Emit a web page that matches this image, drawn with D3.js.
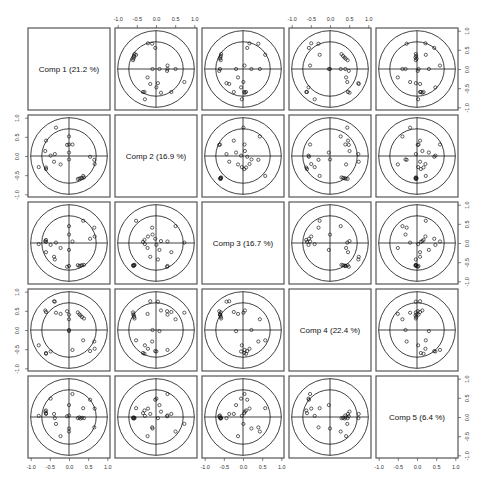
<!DOCTYPE html>
<html><head><meta charset="utf-8">
<script src="https://cdn.jsdelivr.net/npm/d3@7"></script>
<style>html,body{margin:0;padding:0;background:#fff;}svg{display:block;}</style>
</head><body>
<script>
// Component labels (diagonal)
const compLabels = ["Comp 1 (21.2 %)", "Comp 2 (16.9 %)", "Comp 3 (16.7 %)", "Comp 4 (22.4 %)", "Comp 5 (6.4 %)"];
// Loadings of each variable on the five components
const comp1 = [0.39, 0.34, 0.30, 0.27, 0.23, 0.67, 0.66, 0.55, 0.37, 0.00, 0.00, 0.09, -0.05, 0.00, -0.22, -0.37, -0.39, -0.48, -0.34, -0.60, -0.60, -0.62, -0.60, -0.79, 0.00];
const comp2 = [-0.56, -0.57, -0.58, -0.59, -0.60, -0.21, -0.10, -0.02, -0.52, -0.09, 0.09, 0.30, 0.29, 0.51, -0.22, 0.05, -0.15, 0.01, 0.74, -0.34, -0.30, 0.13, 0.40, -0.29, 0.30];
const comp3 = [-0.57, -0.58, -0.59, -0.60, -0.58, 0.17, 0.40, 0.11, 0.58, 0.22, -0.18, 0.04, -0.62, 0.44, -0.13, -0.43, -0.36, -0.05, 0.01, 0.03, 0.08, 0.05, -0.24, -0.03, -0.60];
const comp4 = [0.30, 0.34, 0.38, 0.41, 0.46, -0.49, -0.30, -0.55, -0.27, 0.00, -0.03, -0.52, 0.49, 0.28, 0.42, 0.74, 0.75, -0.56, 0.45, -0.60, -0.62, 0.51, 0.47, -0.40, 0.40];
const comp5 = [-0.03, -0.02, -0.04, -0.01, -0.03, 0.22, -0.27, 0.45, 0.23, -0.30, 0.31, 0.60, 0.02, -0.38, -0.50, -0.03, 0.08, 0.48, -0.18, 0.10, 0.17, 0.14, 0.08, 0.03, 0.04];
const comps = [comp1, comp2, comp3, comp4, comp5];
// Correlation circle radii and axis ticks
const circleRadii = [1, 0.71];
const tickValues = [-1, -0.5, 0, 0.5, 1];
const tickLabels = ["-1.0", "-0.5", "0.0", "0.5", "1.0"];

const W = 486, H = 486;
const padL = 28, padT = 28, size = 82, gap = 5, lim = 1.07;
const n = comps.length;

const svg = d3.select("body").append("svg").attr("width", W).attr("height", H)
  .style("font-family", "'Liberation Sans', Arial, sans-serif");
svg.append("rect").attr("width", W).attr("height", H).attr("fill", "#fff");

const x = d3.scaleLinear().domain([-lim, lim]).range([0, size]);
const y = d3.scaleLinear().domain([-lim, lim]).range([size, 0]);

for (let i = 0; i < n; i++) {
  for (let j = 0; j < n; j++) {
    const g = svg.append("g").attr("transform", `translate(${padL + j * (size + gap)},${padT + i * (size + gap)})`);
    if (i !== j) {
      circleRadii.forEach(r => {
        g.append("circle").attr("cx", x(0)).attr("cy", y(0)).attr("r", x(r) - x(0))
          .attr("fill", "none").attr("stroke", "#111").attr("stroke-width", 0.8);
      });
      g.append("line").attr("x1", x(-1)).attr("x2", x(1)).attr("y1", y(0)).attr("y2", y(0))
        .attr("stroke", "#111").attr("stroke-width", 0.8);
      g.append("line").attr("x1", x(0)).attr("x2", x(0)).attr("y1", y(-1)).attr("y2", y(1))
        .attr("stroke", "#111").attr("stroke-width", 0.8);
      const xs = comps[j], ys = comps[i];
      g.selectAll("circle.pt").data(xs.map((v, k) => [v, ys[k]])).join("circle")
        .attr("class", "pt").attr("cx", d => x(d[0])).attr("cy", d => y(d[1])).attr("r", 1.6)
        .attr("fill", "none").attr("stroke", "#111").attr("stroke-width", 0.65);
    } else {
      g.append("text").attr("x", size / 2).attr("y", size / 2).attr("dy", "0.35em")
        .attr("text-anchor", "middle").attr("font-size", 8).attr("fill", "#111")
        .text(compLabels[i]);
    }
    g.append("rect").attr("width", size).attr("height", size).attr("fill", "none")
      .attr("stroke", "#555").attr("stroke-width", 1.2);

    const fmt = (d, k) => tickLabels[k];
    const styleAxis = (ax) => {
      ax.select(".domain").remove();
      ax.selectAll(".tick line").attr("stroke", "#333").attr("stroke-width", 0.6);
      ax.selectAll(".tick text").attr("font-size", 5.5).attr("fill", "#333")
        .attr("font-family", "'Liberation Sans', Arial, sans-serif");
    };
    if (i === 0 && j % 2 === 1) {
      const ax = g.append("g").call(d3.axisTop(x).tickValues(tickValues).tickFormat(fmt).tickSize(3).tickPadding(4));
      styleAxis(ax);
    }
    if (i === n - 1 && j % 2 === 0) {
      const ax = g.append("g").attr("transform", `translate(0,${size})`)
        .call(d3.axisBottom(x).tickValues(tickValues).tickFormat(fmt).tickSize(3).tickPadding(4));
      styleAxis(ax);
    }
    if (j === 0 && i % 2 === 1) {
      const ax = g.append("g").call(d3.axisLeft(y).tickValues(tickValues).tickFormat(fmt).tickSize(3));
      styleAxis(ax);
      ax.selectAll(".tick text").attr("text-anchor", "middle").attr("x", 0).attr("dy", 0)
        .attr("transform", "translate(-9,0) rotate(-90)");
    }
    if (j === n - 1 && i % 2 === 0) {
      const ax = g.append("g").attr("transform", `translate(${size},0)`)
        .call(d3.axisRight(y).tickValues(tickValues).tickFormat(fmt).tickSize(3));
      styleAxis(ax);
      ax.selectAll(".tick text").attr("text-anchor", "middle").attr("x", 0).attr("dy", 0)
        .attr("transform", "translate(11,0) rotate(-90)");
    }
  }
}
</script>
</body></html>
